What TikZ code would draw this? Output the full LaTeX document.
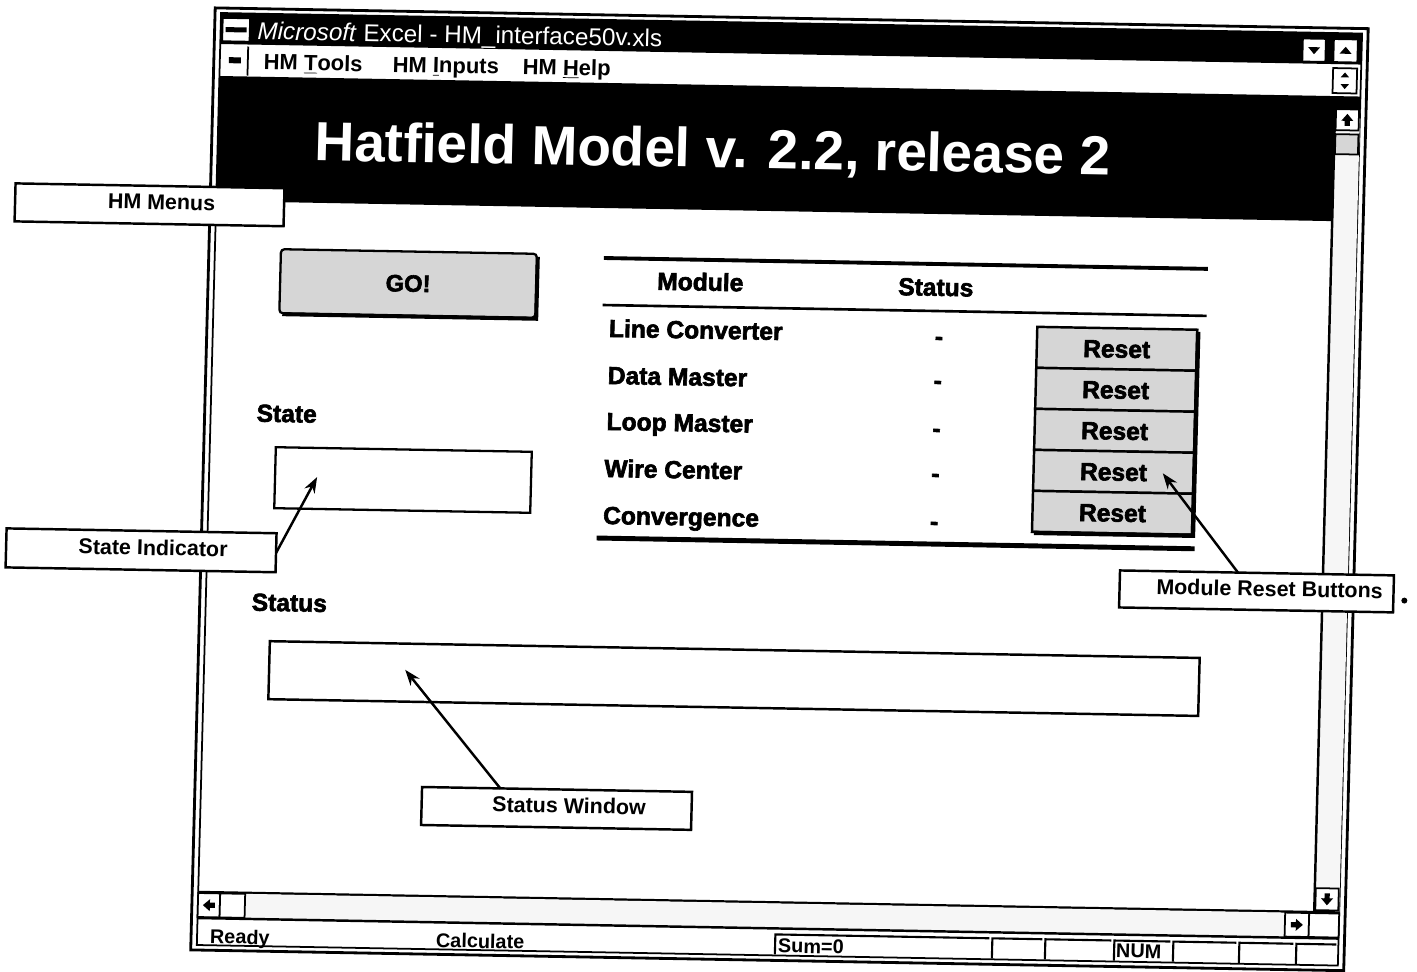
\documentclass[tikz,border=0pt]{standalone}
\usepackage{fontspec}
\setmainfont{Liberation Sans}
\newfontfamily\heavyfont[BoldFeatures={FakeBold=2.5}]{Liberation Sans}
\usetikzlibrary{arrows.meta,calc}

\begin{document}
\begin{tikzpicture}[x=0.02cm, y=-0.02cm,
  every node/.style={inner sep=0pt, outer sep=0pt},
  cell/.style={font=\heavyfont\bfseries\fontsize{14}{16}\selectfont, text height=10pt, text depth=0pt},
  menu/.style={font=\bfseries\fontsize{12.5}{14}\selectfont, text height=9pt, text depth=0pt, anchor=west},
  sbar/.style={font=\bfseries\fontsize{11.3}{13}\selectfont, text height=8.1pt, text depth=0pt, anchor=west},
  callout/.style={draw, fill=white, line width=1.4pt, font=\bfseries\fontsize{12.2}{14}\selectfont, text height=8.7pt, text depth=3.4pt},
  pointer/.style={line width=1.4pt, -{Stealth[length=9pt,width=6.5pt]}},
  btn/.style={draw, fill=white, line width=1pt},
  stipple/.style={fill=gray!32},
  track/.style={fill=gray!7},
  uparr/.pic={\fill (-6,1)--(0,-6)--(6,1)--(2.6,1)--(2.6,6)--(-2.6,6)--(-2.6,1)--cycle;},
  tri/.pic={\fill (-6,-3)--(6,-3)--(0,4)--cycle;}
]
\fill[white] (0,0) rectangle (1417,972);
\useasboundingbox (0,0) rectangle (1417,972);

\begin{scope}[shift={(708,486)}, cm={1,-0.018,0.026,1,(0,0)}, shift={(-708,-486)}, transform shape]
  % window frame
  \draw[line width=1.6pt, fill=white] (203,17) rectangle (1356,959);
  \draw[line width=1pt] (209,22) rectangle (1350,954);

  % title bar
  \fill (209,22) rectangle (1350,53);
  \draw[fill=white, line width=0.8pt] (211,27) rectangle (238,50);
  \fill (214,36) rectangle (235,41);
  \node[anchor=west, text=white, font=\fontsize{13.8}{16}\selectfont, text height=9.9pt, text depth=0pt]
    (wintitle) at (246,39) {\textit{Microsoft} Excel - HM\_interface50v.xls};
  \draw[btn] (1291,28) rectangle (1314,51);
  \pic at (1302.5,39.5) {tri};
  \draw[btn] (1322,28) rectangle (1346,51);
  \pic[rotate=180] at (1334,39.5) {tri};

  % menu bar
  \fill (218,66) rectangle (230,72);
  \draw[line width=1pt] (237,55) -- (237,84);
  \node[menu] (mtools) at (253,70) {HM \underline{T}ools};
  \node[menu] (minputs) at (382,70) {HM \underline{I}nputs};
  \node[menu] (mhelp) at (512,70) {HM \underline{H}elp};
  \draw[btn] (1322,57) rectangle (1346,82);
  \pic[rotate=180, scale=0.7] at (1334,64) {tri};
  \pic[scale=0.7] at (1334,75) {tri};

  % black banner rows
  \fill (209,85) -- (1350,85) -- (1350,98) -- (1325,98) -- (1325,210) -- (209,210) -- cycle;
  \node[text=white, font=\bfseries\fontsize{31.3}{36}\selectfont, text height=22.4pt, text depth=0pt]
    (banner) at (704,148) {Hatfield Model v. 2.2, release 2};

  % vertical scroll bar
  \fill[gray!7] (1326,98) rectangle (1350,901);
  \draw[line width=1.4pt] (1325,97) -- (1325,901);
  \draw[btn] (1326,98) rectangle (1349,119);
  \pic at (1337.5,108.5) {uparr};
  \draw[stipple, draw=black, line width=1pt] (1326,123) rectangle (1349,143);
  \draw[btn] (1326,877) rectangle (1349,899);
  \pic[rotate=180] at (1337.5,888) {uparr};

  % horizontal scroll bar
  \draw[line width=1.4pt] (209,901) -- (1350,901);
  \fill[gray!7] (256,902) rectangle (1296,926);
  \draw[btn] (209,902) rectangle (231,926);
  \pic[rotate=90] at (220,914) {uparr};
  \draw[btn] (231,902) rectangle (256,926);
  \draw[btn] (1296,902) rectangle (1320,926);
  \pic[rotate=-90] at (1308,914) {uparr};
  \draw[btn] (1320,902) rectangle (1350,926);
  \draw[line width=1.4pt] (209,927) -- (1350,927);

  % status bar
  \node[sbar] (ready) at (222,945) {Ready};
  \node[sbar] (calc) at (448,945) {Calculate};
  \foreach \a/\b in {787/1001, 1004/1054, 1057/1123, 1126/1182, 1185/1248, 1251/1305, 1308/1348}
    \draw[line width=1.2pt] (\a,953) -- (\a,933) -- (\b,933);
  \node[sbar] (sum) at (790,944) {Sum=0};
  \node[sbar] (num) at (1128,943) {NUM};

  % GO! button
  \node[draw, stipple, line width=1.3pt, rounded corners=2pt, minimum width=5.12cm, minimum height=1.28cm,
    font=\heavyfont\bfseries\fontsize{13.5}{15}\selectfont] (gobtn) at (403,289) {GO!};
  \draw[line width=2.2pt] (278,322) -- (532,322) -- (532,260);

  % module table
  \draw[line width=2.2pt] (598,260) -- (1202,260);
  \draw[line width=1.5pt] (598,307) -- (1202,307);
  \draw[line width=2.8pt] (598,540) -- (1196,540);
  \node[cell, anchor=west] (hmod) at (652,282) {Module};
  \node[cell, anchor=west] (hstat) at (893,283) {Status};
  \node[cell, anchor=west] (m1) at (605,330) {Line Converter};
  \node[cell, anchor=west] (m2) at (605,377) {Data Master};
  \node[cell, anchor=west] (m3) at (605,423) {Loop Master};
  \node[cell, anchor=west] (m4) at (604,470) {Wire Center};
  \node[cell, anchor=west] (m5) at (604,517) {Convergence};
  \foreach \v [count=\k] in {332,376,424,469,517}
    \node[cell] (d\k) at (935,\v) {-};

  % reset buttons
  \foreach \k in {0,...,4}
    \node[draw, stipple, line width=1.4pt, minimum width=3.2cm, minimum height=0.82cm,
      font=\heavyfont\bfseries\fontsize{14}{16}\selectfont, text height=10pt, text depth=0pt]
      (reset\k) at (1113,{341.5+41*\k}) {Reset};
  \draw[line width=2.5pt] (1035,527) -- (1194,527) -- (1194,323);

  % state and status fields
  \node[cell, anchor=west] (lstate) at (255,421) {State};
  \node[draw, line width=1.3pt, minimum width=5.12cm, minimum height=1.22cm] (statebox) at (403,485.5) {};
  \node[cell, anchor=west] (lstatus) at (255,610) {Status};
  \node[draw, line width=1.4pt, minimum width=18.6cm, minimum height=1.16cm] (statuswin) at (739,678) {};

  % callouts
  \node[callout, minimum width=5.38cm, minimum height=0.76cm] (cmenus) at (142.5,215) {\hspace*{0.48cm}HM Menus};
  \node[callout, minimum width=5.4cm, minimum height=0.78cm] (cstate) at (143,560.5) {\hspace*{0.48cm}State Indicator};
  \node[callout, minimum width=5.4cm, minimum height=0.76cm] (cstatus) at (565,811) {\hspace*{0.5cm}Status Window};
  \node[callout, minimum width=5.48cm, minimum height=0.74cm] (creset) at (1259,581.5) {\hspace*{0.52cm}Module Reset Buttons};
  \fill (1407,588) circle[radius=0.06cm];

  \coordinate (statetip) at (317,484);
  \coordinate (statustip) at (410,675);
  \coordinate (resettip) at (1162,465);
  \draw[pointer] (cstate.east) -- (statetip);
  \draw[pointer] ($(cstatus.north west)!0.29!(cstatus.north east)$) -- (statustip);
  \draw[pointer] ($(creset.north west)!0.43!(creset.north east)$) -- (resettip);
\end{scope}
\end{tikzpicture}
\end{document}
